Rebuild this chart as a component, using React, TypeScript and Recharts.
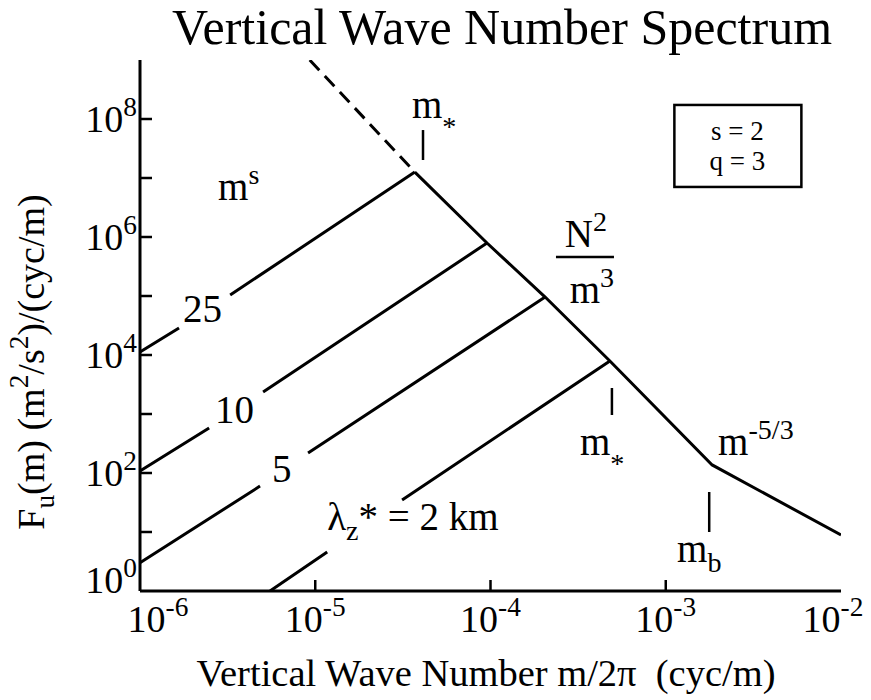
import React from "react";
import { LineChart, Line, XAxis, YAxis, ReferenceDot, ReferenceLine } from "recharts";

type Pt = { x: number; y: number | null };

const SERIF = "'Liberation Serif', 'Times New Roman', serif";
const serif = { fontFamily: SERIF };

const xTicks = [1e-6, 1e-5, 1e-4, 1e-3, 1e-2];
const yTicks = [1, 1e1, 1e2, 1e3, 1e4, 1e5, 1e6, 1e7, 1e8];

// N^2/m^3 saturated part, bending to m^-5/3 at m_b
const saturated: Pt[] = [
  { x: 3.7e-5, y: 1.26e7 },
  { x: 9.55e-5, y: 7.9e5 },
  { x: 2.05e-4, y: 9.6e4 },
  { x: 4.8e-4, y: 7.9e3 },
  { x: 1.84e-3, y: 137 },
  { x: 1e-2, y: 8.9 },
];

// dashed continuation above m*
const extension: Pt[] = [
  { x: 9.3e-6, y: 1e9 },
  { x: 3.7e-5, y: 1.26e7 },
];

// m^s branches, one per lambda_z* (km); null = gap left for the label
const lambda25: Pt[] = [
  { x: 1e-6, y: 1.12e4 },
  { x: 1.67e-6, y: 2.87e4 },
  { x: 2.3e-6, y: null },
  { x: 3.27e-6, y: 1.04e5 },
  { x: 3.7e-5, y: 1.26e7 },
];
const lambda10: Pt[] = [
  { x: 1e-6, y: 108 },
  { x: 2.48e-6, y: 580 },
  { x: 3.5e-6, y: null },
  { x: 5.04e-6, y: 2360 },
  { x: 9.55e-5, y: 7.9e5 },
];
const lambda5: Pt[] = [
  { x: 1e-6, y: 3.0 },
  { x: 4.84e-6, y: 60 },
  { x: 6.5e-6, y: null },
  { x: 9.1e-6, y: 218 },
  { x: 2.05e-4, y: 9.6e4 },
];
const lambda2: Pt[] = [
  { x: 5.52e-6, y: 1 },
  { x: 1.17e-5, y: 4.6 },
  { x: 2e-5, y: null },
  { x: 3.13e-5, y: 35 },
  { x: 4.8e-4, y: 7.9e3 },
];

// short marker ticks for m* and m_b
const markers = [
  { x: 4.12e-5, y1: 6.5e7, y2: 2.02e7 },
  { x: 4.93e-4, y1: 2760, y2: 962 },
  { x: 1.77e-3, y1: 47.6, y2: 10 },
];

// text anchors (data coordinates)
const notes = [
  { id: "mStarTop", x: 3.56e-5, y: 1.04e8 },
  { id: "mS", x: 2.79e-6, y: 4.24e6 },
  { id: "l25", x: 1.76e-6, y: 3.6e4 },
  { id: "l10", x: 2.68e-6, y: 703 },
  { id: "l5", x: 5.66e-6, y: 70 },
  { id: "l2", x: 1.17e-5, y: 10.8 },
  { id: "n2m3", x: 3.46e-4, y: 4.58e5 },
  { id: "mStarLow", x: 3.24e-4, y: 202 },
  { id: "m53", x: 1.99e-3, y: 202 },
  { id: "mb", x: 1.16e-3, y: 3.1 },
  { id: "box", x: 1.12e-3, y: 1.73e8 },
];

type Seg = [string, "n" | "sup" | "sub" | "star"];

const rich = (segs: Seg[], size: number) => {
  let cur = 0;
  return segs.map(([t, k], i) => {
    const target = k === "sup" ? -size * 0.42 : k === "sub" ? size * 0.26 : k === "star" ? size * 0.45 : 0;
    const dy = target - cur;
    cur = target;
    const fs = k === "n" ? size : size * 0.72;
    return (
      <tspan key={i} dy={dy} fontSize={fs} style={serif}>
        {t}
      </tspan>
    );
  });
};

const T = (x: number, y: number, segs: Seg[], size = 39, anchor: "start" | "middle" | "end" = "start") => (
  <text x={x} y={y} fontSize={size} style={serif} fill="#000" textAnchor={anchor}>
    {rich(segs, size)}
  </text>
);

const noteShape = (id: string) => (p: any) => {
  const { cx, cy } = p;
  switch (id) {
    case "mStarTop":
    case "mStarLow":
      return T(cx, cy, [["m", "n"], ["*", "star"]]);
    case "mS":
      return T(cx, cy, [["m", "n"], ["s", "sup"]]);
    case "l25":
      return T(cx, cy, [["25", "n"]]);
    case "l10":
      return T(cx, cy, [["10", "n"]]);
    case "l5":
      return T(cx, cy, [["5", "n"]]);
    case "l2":
      return T(cx, cy, [["λ", "n"], ["z", "sub"], ["* = 2 km", "n"]]);
    case "m53":
      return T(cx, cy, [["m", "n"], ["-5/3", "sup"]]);
    case "mb":
      return T(cx, cy, [["m", "n"], ["b", "sub"]]);
    case "n2m3":
      return (
        <g>
          {T(cx + 1, cy - 10, [["N", "n"], ["2", "sup"]], 39, "middle")}
          <line x1={cx - 29} x2={cx + 29} y1={cy} y2={cy} stroke="#000" strokeWidth={2.5} />
          {T(cx + 7, cy + 46, [["m", "n"], ["3", "sup"]], 39, "middle")}
        </g>
      );
    case "box":
      return (
        <g>
          <rect x={cx} y={cy} width={127} height={82} fill="#fff" stroke="#000" strokeWidth={2.5} />
          {T(cx + 63, cy + 35, [["s = 2", "n"]], 27, "middle")}
          {T(cx + 63, cy + 65, [["q = 3", "n"]], 27, "middle")}
        </g>
      );
    default:
      return <g />;
  }
};

const BottomTick = (props: any) => {
  const { x, y, payload, index } = props;
  const exp = Math.round(Math.log10(payload.value));
  const inner = index > 0 && index < xTicks.length - 1;
  const shift = index === 0 ? 18 : index === xTicks.length - 1 ? -8 : 0;
  return (
    <g>
      {inner && <line x1={x} x2={x} y1={y} y2={y - 11} stroke="#000" strokeWidth={2.5} />}
      <text x={x + shift} y={y + 41} textAnchor="middle" fontSize={38} style={serif} fill="#000">
        {rich([["10", "n"], [String(exp), "sup"]], 38)}
      </text>
    </g>
  );
};

const TopTick = (props: any) => {
  const { x, y, index } = props;
  if (index === 0 || index === xTicks.length - 1) return <g />;
  return <line x1={x} x2={x} y1={y} y2={y + 14} stroke="#000" strokeWidth={2.5} />;
};

const LeftTick = (props: any) => {
  const { x, y, payload } = props;
  const exp = Math.round(Math.log10(payload.value));
  return (
    <g>
      {exp > 0 && <line x1={x} x2={x + 12} y1={y} y2={y} stroke="#000" strokeWidth={2.5} />}
      {exp % 2 === 0 && (
        <text x={x - 3} y={y + (exp === 0 ? 2 : 13)} textAnchor="end" fontSize={38} style={serif} fill="#000">
          {rich([["10", "n"], [String(exp), "sup"]], 38)}
        </text>
      )}
    </g>
  );
};

const RightTick = (props: any) => {
  const { x, y, payload } = props;
  const exp = Math.round(Math.log10(payload.value));
  if (exp <= 0) return <g />;
  return <line x1={x} x2={x - 10} y1={y} y2={y} stroke="#000" strokeWidth={2.5} />;
};

const axisLine = { stroke: "#000", strokeWidth: 3 };

const App: React.FC = () => {
  const lineProps = {
    dataKey: "y",
    type: "linear" as const,
    stroke: "#000",
    strokeWidth: 3,
    dot: false,
    activeDot: false,
    connectNulls: false,
    isAnimationActive: false,
  };
  return (
    <div style={{ position: "absolute", left: 0, top: 0, width: 871, height: 700, background: "#fff", ...serif }}>
      <LineChart width={871} height={700} margin={{ top: 60, right: 30, bottom: 49, left: 0 }}>
        <XAxis
          dataKey="x"
          type="number"
          scale="log"
          domain={[1e-6, 1e-2]}
          allowDataOverflow
          ticks={xTicks}
          interval={0}
          height={60}
          tickSize={0}
          tickMargin={0}
          tickLine={false}
          axisLine={axisLine}
          tick={BottomTick}
        />
        <XAxis
          xAxisId="top"
          orientation="top"
          dataKey="x"
          type="number"
          scale="log"
          domain={[1e-6, 1e-2]}
          allowDataOverflow
          ticks={xTicks}
          interval={0}
          height={0}
          tickSize={0}
          tickMargin={0}
          tickLine={false}
          axisLine={axisLine}
          tick={TopTick}
        />
        <YAxis
          type="number"
          scale="log"
          domain={[1, 1e9]}
          allowDataOverflow
          ticks={yTicks}
          interval={0}
          width={140}
          tickSize={0}
          tickMargin={0}
          tickLine={false}
          axisLine={axisLine}
          tick={LeftTick}
        />
        <YAxis
          yAxisId="right"
          orientation="right"
          type="number"
          scale="log"
          domain={[1, 1e9]}
          allowDataOverflow
          ticks={yTicks}
          interval={0}
          width={0}
          tickSize={0}
          tickMargin={0}
          tickLine={false}
          axisLine={axisLine}
          tick={RightTick}
        />
        <Line {...lineProps} data={saturated} />
        <Line {...lineProps} data={extension} strokeDasharray="14 8" />
        <Line {...lineProps} data={lambda25} />
        <Line {...lineProps} data={lambda10} />
        <Line {...lineProps} data={lambda5} />
        <Line {...lineProps} data={lambda2} />
        {markers.map((m, i) => (
          <ReferenceLine
            key={`mk-${i}`}
            segment={[
              { x: m.x, y: m.y1 },
              { x: m.x, y: m.y2 },
            ]}
            stroke="#000"
            strokeWidth={2.5}
          />
        ))}
        {notes.map((n) => (
          <ReferenceDot key={n.id} x={n.x} y={n.y} r={0} shape={noteShape(n.id)} />
        ))}
      </LineChart>
      <svg width={871} height={700} style={{ position: "absolute", left: 0, top: 0, pointerEvents: "none" }}>
        <text x={502} y={44} textAnchor="middle" fontSize={50} style={serif} fill="#000">
          Vertical Wave Number Spectrum
        </text>
        <text x={486} y={686} textAnchor="middle" fontSize={38.5} style={serif} fill="#000" xmlSpace="preserve">
          Vertical Wave Number m/2π  (cyc/m)
        </text>
        <text transform="translate(44,362) rotate(-90)" textAnchor="middle" fontSize={38} style={serif} fill="#000">
          {rich(
            [
              ["F", "n"],
              ["u", "sub"],
              ["(m) (m", "n"],
              ["2", "sup"],
              ["/s", "n"],
              ["2", "sup"],
              [")/(cyc/m)", "n"],
            ],
            38
          )}
        </text>
      </svg>
    </div>
  );
};

export default App;
